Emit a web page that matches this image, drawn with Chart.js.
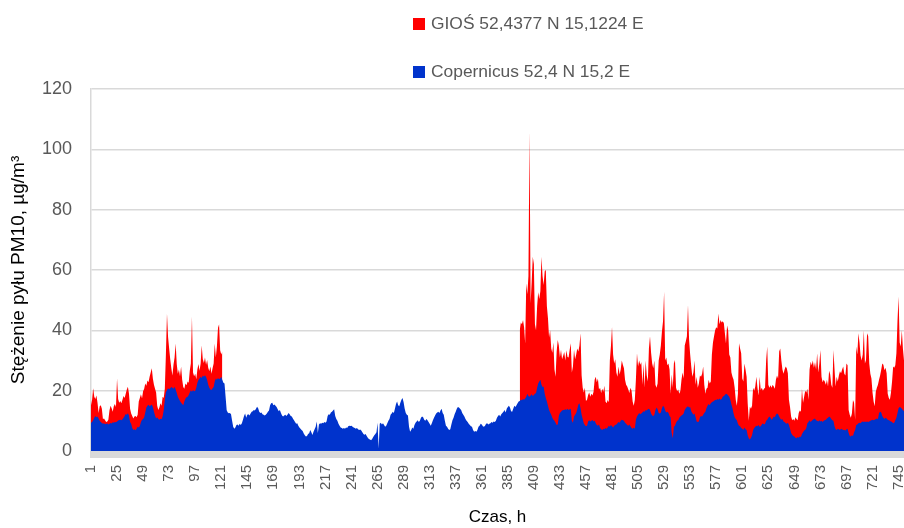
<!DOCTYPE html>
<html>
<head>
<meta charset="utf-8">
<script src="https://cdn.jsdelivr.net/npm/chart.js@4.4.1/dist/chart.umd.min.js"></script>
<style>
  body { margin: 0; background: #fff; overflow: hidden; }
  #wrap { position: relative; width: 904px; height: 528px; }
  .leg { position: absolute; left: 413px; height: 20px; line-height: 20px;
         font: 17.4px "Liberation Sans", Arial, sans-serif; color: #595959; white-space: nowrap; }
  .leg i { display: inline-block; width: 12px; height: 12px; margin-right: 6px; vertical-align: -1px; }
</style>
</head>
<body>
<div id="wrap">
  <canvas id="myChart" width="904" height="528"></canvas>
  <div class="leg" style="top:13px"><i style="background:#ff0000"></i>GIOŚ 52,4377 N 15,1224 E</div>
  <div class="leg" style="top:61px"><i style="background:#0033cc"></i>Copernicus 52,4 N 15,2 E</div>
</div>
<script>
// Copernicus, hourly PM10 (one row = one day)
const copernicus = [
  9.4,9.6,10.2,11.0,11.6,11.2,11.4,10.8,10.0,9.6,9.3,9.0,9.2,8.9,9.0,9.1,8.8,9.0,9.3,9.1,9.5,9.4,9.6,9.5,
  9.8,10.1,10.3,10.4,10.2,10.5,11.0,11.6,12.3,12.0,12.5,11.8,9.6,9.0,7.6,7.0,7.2,6.9,7.4,8.0,7.8,8.3,9.6,10.4,
  10.6,11.2,12.8,14.4,15.0,15.3,14.8,15.1,15.4,14.6,13.0,11.8,10.8,11.2,10.6,10.4,10.7,10.5,11.5,13.6,17.0,19.5,20.2,20.8,
  20.5,20.8,21.2,21.0,20.6,21.3,20.4,19.2,18.0,17.2,16.6,16.0,15.6,15.2,16.4,17.3,17.8,18.0,18.6,19.4,20.1,19.6,20.2,19.8,
  20.0,21.0,22.6,23.5,24.0,24.6,24.2,25.0,24.6,25.1,24.5,23.5,22.0,21.0,20.4,20.2,20.8,21.2,23.0,24.0,23.6,24.2,23.8,24.0,
  24.6,23.5,22.6,22.4,18.0,13.5,12.8,12.5,12.6,12.2,10.0,8.0,7.4,7.8,8.6,8.8,8.4,9.0,8.6,9.2,10.4,11.6,12.4,11.0,
  12.0,12.2,11.8,12.4,13.0,13.2,13.6,13.4,14.0,14.7,14.2,13.0,12.6,12.8,12.2,12.0,11.8,12.0,12.4,13.0,13.4,15.2,15.8,16.0,
  15.2,15.4,15.0,14.6,13.8,13.2,13.6,12.6,11.8,11.4,11.8,12.0,11.6,12.0,12.6,12.2,11.6,11.4,10.8,10.2,9.6,9.0,9.2,8.4,
  7.8,7.4,7.0,6.6,5.8,5.2,4.8,5.0,5.6,5.9,7.0,6.2,5.3,6.4,7.2,8.0,9.8,6.0,8.8,9.2,9.0,9.4,9.2,9.6,
  9.4,9.8,11.6,12.2,12.0,12.8,13.0,13.4,13.8,11.6,10.6,10.0,9.0,8.4,7.8,7.6,7.4,7.6,7.4,7.8,7.6,8.2,8.4,8.3,
  8.4,8.0,7.8,7.6,7.4,7.6,7.2,7.0,7.1,6.8,6.2,5.6,5.4,5.6,5.0,4.4,4.0,3.8,3.6,4.0,4.6,5.2,5.6,6.2,
  9.4,0.8,9.0,9.4,8.8,9.2,8.6,8.0,8.4,9.2,10.0,10.6,12.0,12.4,13.0,12.6,14.0,15.6,16.4,15.2,14.8,16.0,17.0,17.6,
  16.2,14.0,12.6,12.0,11.8,8.0,6.4,7.0,7.8,7.4,8.6,9.4,9.8,10.2,9.6,10.0,11.0,11.4,11.2,10.4,10.0,10.6,10.2,9.6,
  9.0,8.4,9.2,10.2,11.0,11.8,12.4,12.8,13.0,12.6,13.4,14.0,12.6,12.0,10.0,8.4,8.0,7.4,7.0,7.2,8.8,10.2,11.0,12.2,
  13.0,14.0,14.6,14.4,14.0,13.6,12.6,12.0,11.4,10.6,10.0,9.6,9.0,8.6,8.2,8.0,7.0,6.4,6.6,6.4,7.0,8.0,8.4,9.0,
  8.8,8.2,8.0,8.4,9.0,9.2,8.8,9.0,9.2,9.6,9.4,9.8,9.6,10.0,11.0,11.6,12.0,11.4,12.2,12.6,13.0,13.6,12.8,14.0,
  14.6,15.0,14.4,13.2,13.0,14.0,15.0,14.6,15.2,15.8,16.4,16.6,17.0,16.8,17.2,17.0,17.4,18.0,19.0,18.2,18.0,18.4,18.8,18.2,
  18.6,19.0,19.2,21.0,22.4,23.0,23.6,22.0,21.2,21.4,19.0,17.6,16.4,15.0,13.6,12.8,12.0,11.0,10.4,10.0,9.4,8.6,8.8,11.6,
  12.6,13.0,13.4,13.6,13.6,13.8,13.6,14.0,13.6,13.8,14.0,10.0,9.4,11.4,12.0,12.6,13.8,15.4,15.8,14.2,12.0,10.6,9.2,8.6,
  8.2,8.4,9.8,10.2,9.8,10.0,10.3,9.8,10.0,9.2,8.6,8.4,8.8,7.6,7.2,7.0,7.4,7.2,7.6,7.4,7.8,8.4,8.0,8.6,
  8.2,7.8,8.4,8.6,8.8,9.2,9.6,9.4,10.0,10.4,10.2,10.0,9.4,9.0,8.6,8.4,8.8,8.2,7.6,7.4,7.8,7.4,10.4,11.4,
  12.0,12.6,12.2,12.4,12.8,13.2,13.0,13.6,13.4,13.8,14.0,13.6,12.4,11.8,11.6,12.0,13.6,14.4,13.8,12.6,12.4,12.8,14.2,15.0,
  14.6,13.4,12.8,13.0,12.6,11.6,11.2,6.0,4.2,8.0,8.4,9.4,10.0,10.2,11.0,11.4,11.8,12.0,12.4,13.6,14.2,14.6,14.8,14.4,
  14.6,13.2,12.6,12.0,12.4,11.2,9.8,9.6,9.8,11.2,11.6,11.4,12.0,12.6,13.0,14.2,15.0,15.6,15.2,15.8,16.2,16.4,16.6,17.0,
  16.8,17.2,17.0,17.4,17.0,17.2,18.0,18.2,18.6,19.0,18.8,18.4,18.0,17.0,15.4,14.2,12.4,11.2,10.6,10.2,9.0,8.4,8.2,7.6,
  7.4,7.0,7.8,7.2,7.0,5.2,4.2,3.8,4.4,5.2,7.0,7.6,8.0,8.4,8.2,8.6,8.0,8.2,8.8,9.2,8.8,9.0,10.0,10.4,
  11.0,11.4,11.0,10.4,10.8,11.4,11.2,12.0,12.4,12.2,11.4,10.8,10.4,10.6,9.8,9.6,9.2,9.0,9.4,8.6,7.4,6.0,5.4,5.0,
  4.8,4.4,4.2,4.6,4.4,4.8,4.6,5.6,6.2,6.8,7.0,7.6,9.2,9.6,10.2,9.6,10.0,10.4,10.6,10.8,10.2,10.0,9.8,10.2,
  9.8,10.0,9.6,10.0,10.2,10.4,10.8,11.0,11.4,11.2,10.6,10.2,10.0,8.2,7.2,7.0,7.4,7.2,7.0,7.4,7.2,7.0,7.0,6.8,
  7.2,7.4,6.0,5.0,4.8,5.2,5.0,6.2,7.0,8.6,8.8,9.2,9.4,9.2,9.6,9.8,9.6,9.8,9.6,9.8,9.6,9.8,10.0,10.2,
  10.4,10.2,10.4,10.6,10.8,10.6,12.6,13.0,12.8,11.6,11.0,10.6,11.0,10.8,10.4,10.2,10.0,9.8,9.6,9.2,9.4,10.2,11.0,12.6,
  14.2,14.6,14.4,14.0,13.6,13.2
];

// GIOŚ station, hours 1-122
const giosStart = [
  15.2,17.0,20.8,18.0,17.2,18.4,16.0,12.6,14.8,15.2,14.0,10.6,10.8,10.2,9.6,9.8,10.4,13.4,15.0,14.2,13.0,14.8,15.6,14.6,
  24.0,17.2,16.0,16.6,15.8,17.0,18.2,17.6,19.0,20.4,21.3,19.0,14.0,12.4,11.6,10.8,11.4,11.6,11.2,12.0,16.4,17.6,18.8,17.4,
  19.8,20.6,22.4,21.6,23.4,22.8,24.6,26.0,27.4,24.0,22.0,20.6,19.4,15.0,13.6,14.4,15.8,15.0,18.0,17.6,20.6,32.0,45.6,37.8,
  34.0,30.4,27.4,25.0,28.6,31.0,35.6,28.8,25.6,27.0,24.8,28.0,23.6,21.2,20.6,22.4,21.8,23.0,22.6,26.6,29.0,44.6,26.0,24.8,
  25.6,23.8,27.0,28.8,26.6,29.0,35.0,30.4,29.2,31.0,28.6,30.2,27.6,26.4,28.0,25.6,27.4,29.0,35.6,31.0,34.6,40.8,42.0,33.4,32.0,33.0
];

// GIOŚ station, hours 396-750 (no data before that)
const giosEnd = [
  40.0,42.6,42.0,43.4,41.0,35.6,55.6,52.0,58.0,106.0,49.0,56.0,64.4,62.0,42.0,40.0,48.0,52.6,50.4,53.0,64.4,58.0,55.0,59.6,
  60.0,48.0,44.0,37.6,40.0,34.0,32.6,36.0,27.0,24.6,33.0,36.8,35.0,31.0,33.6,30.4,31.6,32.8,30.0,33.4,31.2,31.0,33.6,35.7,
  26.0,28.0,33.6,30.4,32.0,34.0,33.0,35.0,39.0,25.0,21.0,19.4,21.0,16.6,17.0,18.6,19.4,18.0,19.0,18.4,19.6,23.6,24.6,22.8,
  24.0,20.4,21.0,19.2,20.6,19.6,21.6,16.4,15.8,16.9,16.2,30.0,34.6,41.2,32.0,29.0,30.4,26.0,24.6,28.0,25.4,27.0,30.0,28.6,
  27.4,23.6,22.0,21.4,20.4,19.2,21.0,20.0,16.4,15.0,16.9,23.6,32.4,28.0,30.0,28.6,29.4,22.0,28.8,21.0,30.0,25.0,23.0,34.0,
  38.0,32.6,29.0,27.4,30.0,22.0,21.0,22.4,30.0,32.0,35.0,39.6,43.0,52.8,30.0,31.0,28.4,29.0,27.0,19.0,25.4,21.0,29.0,30.2,
  21.0,19.8,20.4,19.0,20.0,23.6,26.0,24.0,35.0,36.4,38.0,48.4,37.0,32.0,28.0,24.6,26.0,30.0,22.0,24.6,21.0,22.4,25.0,24.6,
  25.6,28.0,22.0,19.0,20.6,21.0,23.6,22.4,23.0,32.0,36.0,38.0,40.0,41.0,40.6,45.6,42.0,43.4,42.6,43.0,42.4,39.0,35.6,41.6,
  40.0,32.0,31.0,26.0,24.6,23.6,21.0,17.0,15.0,19.0,35.7,34.0,32.4,24.0,23.0,29.0,27.0,24.6,15.8,10.0,14.7,14.0,15.0,21.0,
  20.0,21.4,24.6,21.0,18.4,24.6,20.2,21.0,20.0,20.6,21.0,30.0,34.6,22.0,21.0,21.8,21.0,22.0,21.4,20.6,23.6,25.0,24.0,33.0,
  34.0,30.0,27.0,25.6,27.0,28.0,27.4,25.8,17.0,14.6,11.4,10.2,10.6,10.0,11.2,10.6,10.2,12.6,13.4,13.0,20.6,16.0,18.0,20.0,
  19.4,20.6,17.0,27.0,29.6,28.4,30.0,27.6,29.4,27.0,32.4,26.0,29.0,33.5,24.6,22.8,23.6,23.0,22.0,23.6,21.4,26.6,25.4,22.0,
  21.0,33.5,27.0,21.4,24.6,23.0,25.0,26.4,25.8,27.0,28.0,25.6,25.0,29.0,28.4,13.6,12.0,11.0,12.4,16.9,16.0,10.4,34.6,32.0,
  39.0,36.0,31.6,30.0,32.0,40.0,29.0,30.2,39.0,38.0,29.0,25.6,24.0,19.4,16.4,14.8,19.6,21.0,22.0,23.6,25.0,26.9,29.0,28.6,
  26.8,27.6,25.8,19.0,17.6,17.0,19.4,23.0,28.0,27.6,28.4,32.4,43.0,51.2,36.0,34.6,40.0,34.0,30.0
];

const yTicks = [0, 20, 40, 60, 80, 100, 120];
const labelEvery = 24;

// hour labels 1..N
const hours = copernicus.map((v, i) => String(i + 1));

// gap between the two GIOŚ parts is missing data
const gapLength = hours.length - giosStart.length - giosEnd.length;
const gios = giosStart.concat(new Array(gapLength).fill(null), giosEnd);

const textGray = '#595959';
const gridGray = '#d9d9d9';
const fontFamily = '"Liberation Sans", Arial, sans-serif';

// grey floor strip under the zero line
const floorPlugin = {
  id: 'floor',
  afterDraw(chart) {
    const { ctx, chartArea } = chart;
    ctx.save();
    ctx.fillStyle = gridGray;
    ctx.fillRect(chartArea.left - 1, chartArea.bottom, chartArea.right - chartArea.left + 1, 7);
    ctx.restore();
  }
};

const myChart = new Chart(document.getElementById('myChart'), {
  type: 'line',
  data: {
    labels: hours,
    datasets: [
      {
        label: 'GIOŚ 52,4377 N 15,1224 E',
        data: gios,
        backgroundColor: '#ff0000',
        borderColor: '#ff0000',
        borderWidth: 0,
        pointRadius: 0,
        fill: 'origin',
        spanGaps: false,
        order: 1
      },
      {
        label: 'Copernicus 52,4 N 15,2 E',
        data: copernicus,
        backgroundColor: '#0033cc',
        borderColor: '#0033cc',
        borderWidth: 0,
        pointRadius: 0,
        fill: 'origin',
        order: 0
      }
    ]
  },
  options: {
    responsive: false,
    animation: false,
    devicePixelRatio: 1,
    layout: { padding: { top: 89, right: 0, bottom: 0, left: 0 } },
    plugins: {
      legend: { display: false },
      tooltip: { enabled: false }
    },
    elements: { line: { tension: 0 } },
    scales: {
      x: {
        type: 'category',
        offset: false,
        grid: { display: false, drawTicks: false },
        border: { display: false },
        ticks: {
          autoSkip: false,
          minRotation: 90,
          maxRotation: 90,
          padding: 14,
          color: textGray,
          font: { family: fontFamily, size: 15 },
          callback: function (value, index) {
            return index % labelEvery === 0 ? hours[index] : null;
          }
        },
        title: {
          display: true,
          text: 'Czas, h',
          color: '#000',
          font: { family: fontFamily, size: 17 },
          padding: { top: 0, bottom: 0 }
        },
        afterFit(scale) {
          scale.height = 77;
          scale.paddingLeft = 0;
          scale.paddingRight = 0;
        }
      },
      y: {
        min: 0,
        max: 120,
        afterBuildTicks(scale) { scale.ticks = yTicks.map(v => ({ value: v })); },
        grid: { color: gridGray, lineWidth: 1.5, drawTicks: false },
        border: { display: true, color: gridGray, width: 1.5 },
        ticks: {
          padding: 19,
          color: textGray,
          font: { family: fontFamily, size: 18 }
        },
        title: {
          display: true,
          text: 'Stężenie pyłu PM10, µg/m³',
          color: '#000',
          font: { family: fontFamily, size: 19 },
          padding: { top: 7, bottom: 0 }
        },
        afterFit(scale) { scale.width = 91; }
      }
    }
  },
  plugins: [floorPlugin]
});
</script>
</body>
</html>
